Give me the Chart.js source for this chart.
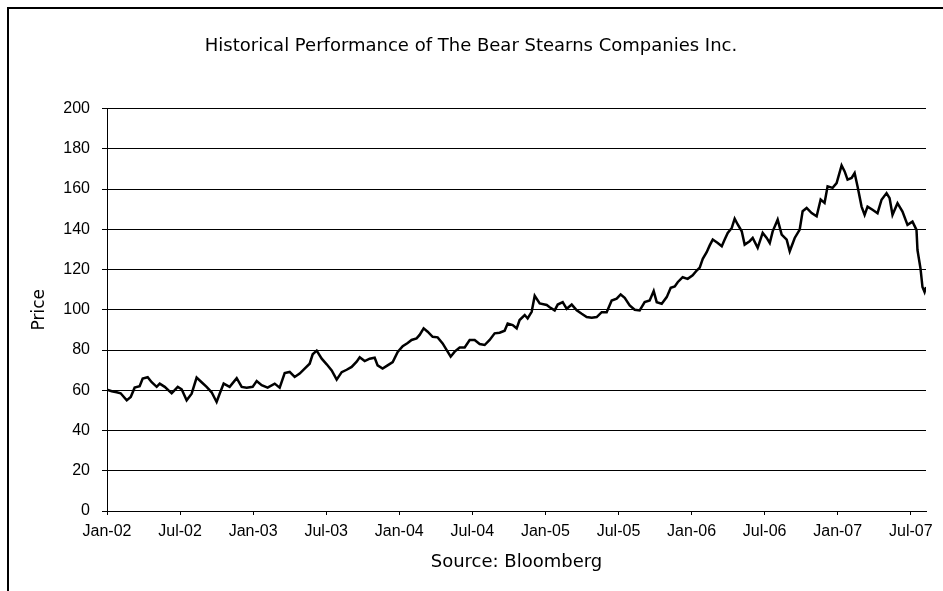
<!DOCTYPE html>
<html>
<head>
<meta charset="utf-8">
<title>Bear Stearns price history</title>
<script src="https://cdn.jsdelivr.net/npm/chart.js@4.4.1/dist/chart.umd.min.js"></script>
<style>
    html, body { margin: 0; padding: 0; background: #fff; overflow: hidden; }
    #wrap { position: relative; width: 943px; height: 591px; }
    #frame { position: absolute; left: 7px; top: 7px; width: 960px; height: 600px;
             border-left: 2px solid #000; border-top: 2px solid #000; pointer-events: none; }
    canvas { position: absolute; left: 0; top: 0; }
</style>
</head>
<body>
<div id="wrap">
    <canvas id="priceChart" width="943" height="591"></canvas>
    <div id="frame"></div>
</div>
<script>
// months elapsed since 1 Jan 2002 for each reading
const months = [
    0.00, 0.39, 0.80, 1.12, 1.62, 1.95, 2.27, 2.68, 2.93, 3.34, 3.67, 4.08, 4.33, 4.74, 5.31, 5.81,
    6.13, 6.54, 6.95, 7.36, 7.77, 8.18, 8.59, 9.00, 9.25, 9.58, 10.07, 10.65, 11.06, 11.47, 11.96,
    12.29, 12.70, 13.19, 13.77, 14.18, 14.59, 15.00, 15.41, 15.82, 16.23, 16.64, 16.89, 17.22, 17.63,
    18.04, 18.45, 18.86, 19.27, 19.68, 20.09, 20.50, 20.75, 21.16, 21.57, 21.98, 22.22, 22.63, 23.04,
    23.46, 23.87, 24.28, 24.69, 25.01, 25.42, 25.67, 26.00, 26.33, 26.74, 27.15, 27.56, 27.97, 28.22,
    28.55, 28.96, 29.37, 29.78, 30.19, 30.60, 31.01, 31.42, 31.83, 32.24, 32.65, 32.90, 33.31, 33.64,
    33.88, 34.30, 34.54, 34.87, 35.12, 35.53, 36.11, 36.35, 36.76, 37.01, 37.42, 37.75, 38.16, 38.57,
    38.98, 39.39, 39.80, 40.21, 40.62, 41.03, 41.44, 41.85, 42.18, 42.51, 42.92, 43.33, 43.74, 44.15,
    44.56, 44.89, 45.14, 45.55, 45.96, 46.29, 46.62, 46.86, 47.27, 47.68, 48.09, 48.42, 48.67, 48.92,
    49.24, 49.49, 49.74, 50.15, 50.48, 50.72, 50.97, 51.30, 51.54, 51.79, 52.12, 52.36, 52.77, 53.02,
    53.43, 53.84, 54.17, 54.42, 54.66, 55.07, 55.40, 55.81, 56.06, 56.47, 56.88, 57.12, 57.45, 57.86,
    58.27, 58.60, 58.92, 59.17, 59.58, 59.91, 60.32, 60.57, 60.81, 61.14, 61.39, 61.63, 61.96, 62.21,
    62.45, 62.86, 63.27, 63.60, 64.01, 64.26, 64.50, 64.91, 65.32, 65.73, 66.14, 66.47, 66.55, 66.80,
    66.96, 67.13, 67.25
];

// closing price (USD)
const prices = [
    60.3, 59.5, 59.0, 58.5, 55.0, 56.7, 61.3, 62.0, 65.8, 66.5, 64.0, 61.7, 63.3, 61.7, 58.5, 61.7,
    60.5, 55.0, 58.3, 66.3, 64.0, 61.7, 59.0, 54.2, 58.3, 63.3, 61.7, 66.0, 61.7, 61.3, 61.7,
    64.6, 62.5, 61.3, 63.3, 61.3, 68.6, 69.1, 66.6, 68.3, 70.8, 73.2, 77.9, 79.7, 75.7,
    72.9, 69.9, 65.3, 69.0, 70.2, 71.6, 74.2, 76.4, 74.5, 75.7, 76.2, 72.4, 70.8, 72.4,
    74.0, 79.0, 81.9, 83.5, 85.0, 85.8, 87.5, 90.8, 89.1, 86.6, 86.3, 83.3, 79.2, 76.7,
    79.2, 81.3, 81.3, 85.0, 85.0, 83.0, 82.5, 85.0, 88.3, 88.6, 89.6, 93.2, 92.4, 90.8,
    94.9, 97.4, 95.7, 99.0, 107.0, 103.2, 102.4, 101.3, 99.7, 102.6, 103.8, 100.5, 102.6, 99.7,
    98.0, 96.4, 96.0, 96.4, 98.8, 98.8, 104.6, 105.5, 107.6, 106.0, 102.2, 100.0, 99.7, 103.8,
    104.6, 109.3, 103.8, 103.0, 106.3, 110.9, 111.6, 113.7, 116.2, 115.4, 117.1, 119.5, 121.0, 125.3,
    128.6, 132.0, 134.9, 133.2, 131.6, 134.9, 138.2, 140.7, 145.3, 142.4, 139.0, 132.4, 134.1, 135.7,
    130.8, 138.2, 135.7, 133.2, 139.0, 144.8, 137.4, 134.9, 129.1, 135.7, 139.9, 149.0, 150.6, 148.1,
    146.5, 154.8, 153.1, 161.4, 160.6, 163.0, 171.8, 168.8, 164.7, 165.5, 168.0, 161.3, 151.3, 147.2,
    151.3, 149.7, 148.0, 154.7, 158.0, 155.5, 147.2, 153.0, 148.8, 142.2, 143.8, 139.7, 129.7, 120.5,
    111.3, 108.8, 111.3
];

// x-axis tick labels, one every six months from Jan-02
const tickMonths = [0, 6, 12, 18, 24, 30, 36, 42, 48, 54, 60, 66];
const tickLabels = ['Jan-02', 'Jul-02', 'Jan-03', 'Jul-03', 'Jan-04', 'Jul-04',
                    'Jan-05', 'Jul-05', 'Jan-06', 'Jul-06', 'Jan-07', 'Jul-07'];

const TICK_FONT = "'Liberation Sans', Arial, sans-serif";
const TEXT_FONT = "'DejaVu Sans', Verdana, sans-serif";
const points = months.map((m, i) => ({ x: m, y: prices[i] }));

const ctx = document.getElementById('priceChart').getContext('2d');
const priceChart = new Chart(ctx, {
    type: 'line',
    data: {
        datasets: [{
            label: 'Price',
            data: points,
            borderColor: '#000',
            borderWidth: 2.5,
            pointRadius: 0,
            tension: 0,
            fill: false
        }]
    },
    options: {
        responsive: false,
        animation: false,
        devicePixelRatio: 1,
        layout: { padding: { left: 16, right: 17, top: 0, bottom: 0 } },
        plugins: {
            legend: { display: false },
            tooltip: { enabled: false },
            title: {
                display: true,
                text: 'Historical Performance of The Bear Stearns Companies Inc.',
                color: '#000',
                font: { family: TEXT_FONT, size: 18, weight: 'normal' },
                padding: { top: 36, bottom: 51 }
            }
        },
        scales: {
            x: {
                type: 'linear',
                min: 0,
                max: 67.25,
                afterFit: function(scale) { scale.height = 80; },
                afterBuildTicks: function(scale) {
                    scale.ticks = tickMonths.map(v => ({ value: v }));
                },
                ticks: {
                    autoSkip: false,
                    maxRotation: 0,
                    padding: 7,
                    color: '#000',
                    font: { family: TICK_FONT, size: 16 },
                    callback: function(value) {
                        const i = tickMonths.indexOf(value);
                        return i >= 0 ? tickLabels[i] : '';
                    }
                },
                grid: { drawOnChartArea: false, drawTicks: true, tickLength: 4, color: '#000' },
                border: { color: '#000', width: 1 },
                title: {
                    display: true,
                    text: 'Source: Bloomberg',
                    color: '#000',
                    font: { family: TEXT_FONT, size: 18 },
                    padding: { top: 0, bottom: 18 }
                }
            },
            y: {
                min: 0,
                max: 200,
                afterFit: function(scale) { scale.width = 91; },
                ticks: {
                    stepSize: 20,
                    padding: 12,
                    color: '#000',
                    font: { family: TICK_FONT, size: 16 }
                },
                grid: { color: '#000', lineWidth: 1, tickLength: 5 },
                border: { color: '#000', width: 1 },
                title: {
                    display: true,
                    text: 'Price',
                    color: '#000',
                    font: { family: TEXT_FONT, size: 17 },
                    padding: { top: 13, bottom: 0 }
                }
            }
        }
    }
});
</script>
</body>
</html>
